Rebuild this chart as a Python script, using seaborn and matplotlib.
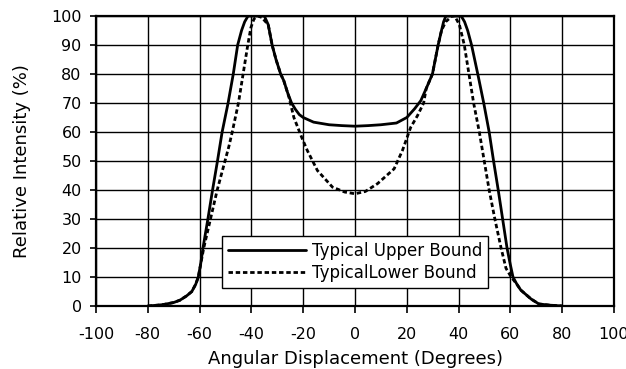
# Relative intensity vs angular displacement
import pandas as pd
import matplotlib.pyplot as plt
import seaborn as sns

# Values.
upperAngle = [-80, -76, -74, -70, -67.6, -65, -63, -61.5, -60.5, -59.5, -58.7,
              -56.8, -55, -53.1, -51.3, -49, -47, -45.3, -43.8, -42.6, -41.3,
              -38, -35, -33.5, -32, -30.5, -28.7, -27.5, -26, -24.5, -23, -21.5,
              -20, -16, -10, -5, 0, 5, 10, 16, 20, 23, 25.4, 27.5, 29.9, 32.1,
              33.4, 34.2, 35.1, 38, 41, 42.3, 43.5, 45, 47.4, 49.7, 51.8, 53.5,
              55.3, 57, 58.7, 59.8, 61, 62.5, 64, 68, 71, 75, 80]
upperIntensity = [0, 0.3, 0.5, 1.2, 2, 3.5, 5, 7.5, 10, 15, 20,
                  30, 40, 50, 60, 70, 80, 90, 95, 98, 100,
                  100, 100, 97, 90, 85, 80, 77.7, 73.5, 70, 67.8, 66,
                  65, 63.4, 62.5, 62.2, 62, 62.2, 62.5, 63.1, 65, 68, 70.8, 75, 80, 90,
                  95, 98, 100, 100, 100, 98, 95, 90, 80, 70, 60, 50,
                  40, 30, 20, 15, 10, 7.5, 5.5, 2.4, 0.7, 0.3, 0]

lowerAngle = [-80, -76, -74, -70, -67.6, -65, -63, -61.5, -60.5, -58.4, -55.8,
              -53.2, -50.2, -48.7, -47.4, -45, -43.2, -41.4, -40.2, -39, -37.5,
              -36, -33.5, -32, -30.5, -28.7, -27.5, -25.5, -23.6, -20.6, -18.4,
              -14.5, -8.7, -4, 0, 4, 8.7, 15.1, 18.3, 21.5, 24.1, 26.5, 27.5, 29.9,
              32.1, 33.4, 35, 37.5, 38.5, 40.3, 42.2, 44, 45.8, 48, 49.9, 51.8,
              54, 56.4, 58.3, 60.3, 62.5, 64, 68, 71, 75, 80]
lowerIntensity = [0, 0.3, 0.5, 1.2, 2, 3.5, 5, 7.5, 10, 20, 30,
                  40, 50, 55, 60, 70, 80, 90, 96, 99, 100,
                  99.5, 97, 90, 85, 80, 77.7, 72, 65, 58.2, 53.6,
                  46.7, 41, 39.3, 38.7, 39.5, 42.2, 47.3, 53.6, 61.6, 65.6, 70, 75, 80,
                  90, 95, 98, 100, 100, 97, 90, 80, 70, 60, 50, 40,
                  30, 20, 13, 10, 7.5, 5.5, 2.4, 0.7, 0.3, 0]

upper = pd.DataFrame({"angle": upperAngle, "intensity": upperIntensity})
lower = pd.DataFrame({"angle": lowerAngle, "intensity": lowerIntensity})

sns.set_style("ticks")
plt.rcParams["font.family"] = ["DejaVu Sans"]
plt.rcParams["axes.unicode_minus"] = False
plt.rcParams["text.color"] = "black"
plt.rcParams["axes.labelcolor"] = "black"

fig = plt.figure(figsize=(6.26, 3.69), dpi=100)
ax = fig.add_axes([96 / 626, 1 - 306 / 369, 518 / 626, 290 / 369])

sns.lineplot(data=upper, x="angle", y="intensity", ax=ax, color="black",
             linewidth=2.0, sort=False, label="Typical Upper Bound")
sns.lineplot(data=lower, x="angle", y="intensity", ax=ax, color="black",
             linewidth=2.0, linestyle=(0, (1.6, 1.0)), sort=False,
             label="TypicalLower Bound")

ax.set_xlim(-100, 100)
ax.set_ylim(0, 100)
ax.set_xticks(range(-100, 101, 20))
ax.set_yticks(range(0, 101, 10))
ax.grid(True, color="black", linewidth=1.0)
ax.set_axisbelow(True)
for side in ["left", "right", "top", "bottom"]:
    ax.spines[side].set_visible(True)
    ax.spines[side].set_color("black")
    ax.spines[side].set_linewidth(1.6)
ax.tick_params(axis="both", colors="black", labelcolor="black", labelsize=11.5,
               width=1.2)
ax.tick_params(axis="x", length=5, pad=10)
ax.tick_params(axis="y", length=4.3, pad=6)

ax.set_xlabel("Angular Displacement (Degrees)", fontsize=13, color="black")
ax.set_ylabel("Relative Intensity (%)", fontsize=13, color="black")
ax.xaxis.set_label_coords(0.5, -0.15)
ax.yaxis.set_label_coords(-0.125, 0.5)

leg = ax.legend(loc="lower left", bbox_to_anchor=(0.243, 0.062), borderaxespad=0,
                fontsize=12, handlelength=4.7, handletextpad=0.35,
                labelspacing=0.28, borderpad=0.35, frameon=True, fancybox=False,
                framealpha=1, edgecolor="black")
leg.get_frame().set_linewidth(1.0)
for txt in leg.get_texts():
    txt.set_color("black")

fig.savefig("out.png", dpi=100)
